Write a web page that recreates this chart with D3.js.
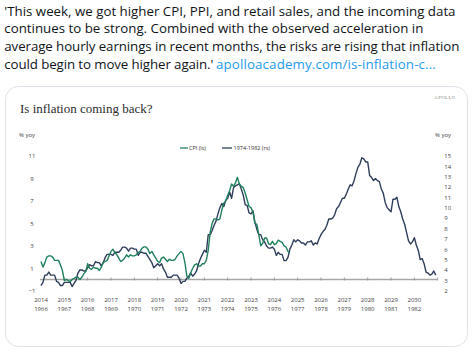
<!DOCTYPE html>
<html>
<head>
<meta charset="utf-8">
<script src="https://cdn.jsdelivr.net/npm/d3@7"></script>
<style>
  html, body { margin: 0; padding: 0; background: #ffffff; }
  svg { display: block; }
</style>
</head>
<body>
<div id="chart"></div>
<script>
// ---------- data ----------
const tweetLines = [
  "'This week, we got higher CPI, PPI, and retail sales, and the incoming data",
  "continues to be strong. Combined with the observed acceleration in",
  "average hourly earnings in recent months, the risks are rising that inflation",
  "could begin to move higher again.'"
];
const tweetLink = "apolloacademy.com/is-inflation-c...";
const chartTitle = "Is inflation coming back?";
const legendLabels = ["CPI (ls)", "1974-1982 (rs)"];

const topYears = [2014,2015,2016,2017,2018,2019,2020,2021,2022,2023,2024,2025,2026,2027,2028,2029,2030];
const bottomYears = [1966,1967,1968,1969,1970,1971,1972,1973,1974,1975,1976,1977,1978,1979,1980,1981,1982];
const leftTicks = [-1, 1, 3, 5, 7, 9, 11];
const rightTicks = [2,3,4,5,6,7,8,9,10,11,12,13,14,15];

// CPI % yoy, monthly from Jan 2014 (left scale)
const cpiValues = [
  1.6,1.1,1.5,2.0,2.1,2.1,2.0,1.7,1.7,1.7,1.3,0.8,
  -0.1,0.0,-0.1,-0.2,0.0,0.1,0.2,0.2,0.0,0.2,0.5,0.7,
  1.4,1.0,0.9,1.1,1.0,1.0,0.8,1.1,1.5,1.6,1.7,2.1,
  2.5,2.7,2.4,2.2,1.9,1.6,1.7,1.9,2.2,2.0,2.2,2.1,
  2.1,2.2,2.4,2.5,2.8,2.9,2.9,2.7,2.3,2.5,2.2,1.9,
  1.6,1.5,1.9,2.0,1.8,1.6,1.8,1.7,1.7,1.8,2.1,2.3,
  2.5,2.3,1.5,0.3,0.1,0.6,1.0,1.3,1.4,1.2,1.2,1.4,
  1.4,1.7,2.6,4.2,5.0,5.4,5.4,5.3,5.4,6.2,6.8,7.0,
  7.5,7.9,8.5,8.3,8.6,9.1,8.5,8.3,8.2,7.7,7.1,6.5,
  6.4,6.0,5.0,4.9,4.0,3.0,3.2,3.7,3.7,3.2,3.1,3.4,
  3.1,3.2,3.5,3.4,3.3,3.0,2.9,2.5,2.4
];
const cpiStart = 2014; // first point plotted at Jan 2014

// 1966-1983 CPI % yoy, monthly (right scale), plotted from Jan 2014 onward
const era70sValues = [
  2.5,2.8,3.5,3.5,3.8,3.5,3.5,
  3.5,2.9,2.8,2.5,2.5,2.8,2.8,2.8,2.8,2.4,2.7,3.0,
  3.7,4.0,4.0,3.9,3.9,4.2,4.5,4.4,4.4,4.8,4.7,4.7,
  4.4,4.7,5.2,5.5,5.5,5.5,5.4,5.7,5.7,5.7,5.9,6.2,
  6.2,6.1,5.8,6.1,6.1,6.0,6.0,5.4,5.7,5.7,5.6,5.6,
  5.3,5.0,4.7,4.2,4.4,4.6,4.4,4.6,4.1,3.8,3.3,3.3,
  3.3,3.5,3.5,3.5,3.2,2.7,2.9,2.9,3.2,3.4,3.7,3.4,
  3.6,3.9,4.6,5.1,5.5,5.9,5.7,7.4,7.4,7.8,8.3,8.7,
  9.4,10.0,10.4,10.1,10.7,10.9,11.5,10.9,11.9,12.1,12.2,12.3,
  11.8,11.2,10.3,10.2,9.5,9.4,9.7,8.6,7.9,7.4,7.4,6.9,
  6.7,6.3,6.1,6.1,6.2,6.0,5.4,5.7,5.5,5.5,4.9,4.9,
  5.2,6.0,6.4,6.9,6.7,6.9,6.8,6.6,6.6,6.4,6.7,6.7,
  6.8,6.4,6.6,6.5,7.0,7.4,7.7,7.9,8.3,8.9,8.9,9.0,
  9.3,9.9,10.1,10.5,10.9,10.9,11.3,11.8,12.2,12.1,12.6,13.3,
  13.9,14.2,14.8,14.7,14.4,14.4,13.1,12.9,12.6,12.8,12.6,12.5,
  11.8,11.4,10.5,10.0,9.8,9.6,10.8,10.8,11.0,10.1,9.6,8.9,
  8.4,7.6,6.8,6.5,6.7,7.1,6.4,5.9,5.0,5.1,4.6,3.8,
  3.7,3.5,3.6,3.9,3.5
];
const era70sStart = 2014;

// ---------- drawing ----------
const W = 472, H = 356;
const green = "#21805e", navy = "#2e3d5a";
const svg = d3.select("#chart").append("svg").attr("width", W).attr("height", H);

// tweet text: pick a font size whose natural width fits line 1
const tweetFont = "'Open Sans', 'Noto Sans', sans-serif";
const lineWidths = [452, 417.5, 455, 209];
const lineBase = [15.5, 33.3, 51, 68.8];
const probe = svg.append("text").attr("font-family", tweetFont).attr("font-size", 14).text(tweetLines[0]);
const natural = probe.node().getComputedTextLength();
probe.remove();
const tweetSize = Math.min(14, 14 * lineWidths[0] / natural);
tweetLines.forEach((t, i) => {
  const el = svg.append("text").attr("x", 4.3).attr("y", lineBase[i])
    .attr("font-family", tweetFont).attr("font-size", tweetSize).attr("fill", "#0f1419")
    .text(t);
  const w = el.node().getComputedTextLength();
  if (Math.abs(w - lineWidths[i]) > 2) el.attr("letter-spacing", (lineWidths[i] - w) / t.length);
});
const linkEl = svg.append("text").attr("x", 216).attr("y", lineBase[3])
  .attr("font-family", tweetFont).attr("font-size", tweetSize).attr("fill", "#1d9bf0")
  .text(tweetLink);
{
  const w = linkEl.node().getComputedTextLength();
  if (Math.abs(w - 220) > 2) linkEl.attr("letter-spacing", (220 - w) / tweetLink.length);
}

// card
svg.append("rect").attr("x", 5.5).attr("y", 86.5).attr("width", 462).attr("height", 260)
  .attr("rx", 13).attr("fill", "#fff").attr("stroke", "#dde3e8").attr("stroke-width", 1);

// title
svg.append("text").attr("x", 20).attr("y", 113)
  .attr("font-family", "'Liberation Serif', serif").attr("font-size", 13).attr("fill", "#2b2b2b")
  .text(chartTitle);
svg.append("text").attr("x", 445).attr("y", 98.5).attr("text-anchor", "middle")
  .attr("font-family", "'Liberation Serif', serif").attr("font-size", 4.5).attr("fill", "#777")
  .attr("letter-spacing", 0.6).text("APOLLO");

// scales
const x = d3.scaleLinear().domain([2014, 2031]).range([41, 437.7]);
const yL = d3.scaleLinear().domain([-1, 11]).range([290.7, 156]);
const yR = d3.scaleLinear().domain([2, 15]).range([290.7, 155.7]);

const smallFont = "'Open Sans', 'Noto Sans', sans-serif";
const labCol = "#444";

// axis unit labels
svg.append("text").attr("x", 27).attr("y", 137).attr("text-anchor", "middle")
  .attr("font-family", smallFont).attr("font-size", 6).attr("fill", labCol).text("% yoy");
svg.append("text").attr("x", 443).attr("y", 137).attr("text-anchor", "middle")
  .attr("font-family", smallFont).attr("font-size", 6).attr("fill", labCol).text("% yoy");

// left axis
const leftAxis = d3.axisLeft(yL).tickValues(leftTicks).tickSize(0).tickPadding(0).tickFormat(d3.format("d"));
const gL = svg.append("g").attr("transform", "translate(35,0)").call(leftAxis);
gL.select(".domain").remove();
gL.selectAll("text").attr("font-family", smallFont).attr("font-size", 6).attr("fill", labCol)
  .attr("text-anchor", "middle").attr("x", -3);

// right axis
const rightAxis = d3.axisRight(yR).tickValues(rightTicks).tickSize(0).tickPadding(0).tickFormat(d3.format("d"));
const gR = svg.append("g").attr("transform", "translate(444.3,0)").call(rightAxis);
gR.select(".domain").remove();
gR.selectAll("text").attr("font-family", smallFont).attr("font-size", 6).attr("fill", labCol);

// zero line with ticks
const y0 = yL(0);
svg.append("line").attr("x1", 40).attr("x2", x(2031)).attr("y1", y0).attr("y2", y0)
  .attr("stroke", "#a6a6a6").attr("stroke-width", 1.6);
const tickYears = d3.range(2015, 2032);
svg.append("g").selectAll("line").data(tickYears).join("line")
  .attr("x1", d => x(d)).attr("x2", d => x(d))
  .attr("y1", y0 - 2).attr("y2", y0 + 1)
  .attr("stroke", "#8a8a8a").attr("stroke-width", 0.8);

// x labels (two rows)
svg.append("g").selectAll("text").data(topYears).join("text")
  .attr("x", d => x(d)).attr("y", 301.5).attr("text-anchor", "middle")
  .attr("font-family", smallFont).attr("font-size", 6).attr("fill", labCol).text(d => d);
svg.append("g").selectAll("text").data(bottomYears).join("text")
  .attr("x", (d, i) => x(topYears[i])).attr("y", 311).attr("text-anchor", "middle")
  .attr("font-family", smallFont).attr("font-size", 6).attr("fill", labCol).text(d => d);

// lines
const lineL = d3.line().x((d, i) => x(cpiStart + i / 12)).y(d => yL(d));
const lineR = d3.line().x((d, i) => x(era70sStart + i / 12)).y(d => yR(d));
svg.append("path").datum(era70sValues).attr("d", lineR)
  .attr("fill", "none").attr("stroke", navy).attr("stroke-width", 1.4).attr("stroke-linejoin", "round");
svg.append("path").datum(cpiValues).attr("d", lineL)
  .attr("fill", "none").attr("stroke", green).attr("stroke-width", 1.4).attr("stroke-linejoin", "round");

// legend
const leg = [
  { x1: 180, x2: 188, tx: 189, col: green, label: legendLabels[0] },
  { x1: 222, x2: 232, tx: 233.5, col: navy, label: legendLabels[1] }
];
leg.forEach(l => {
  svg.append("line").attr("x1", l.x1).attr("x2", l.x2).attr("y1", 148).attr("y2", 148)
    .attr("stroke", l.col).attr("stroke-width", 1.3);
  svg.append("text").attr("x", l.tx).attr("y", 150).attr("font-family", smallFont)
    .attr("font-size", 5.5).attr("fill", "#333").text(l.label);
});
</script>
</body>
</html>
